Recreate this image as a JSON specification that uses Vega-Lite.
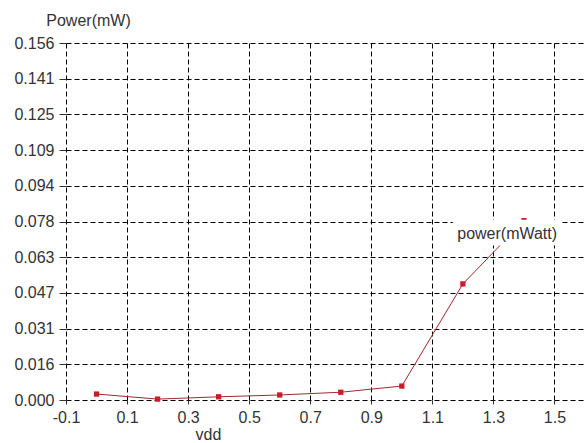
{
  "$schema": "https://vega.github.io/schema/vega-lite/v6.json",
  "autosize": "none",
  "width": 519,
  "height": 357,
  "padding": {"left": 66, "top": 43, "right": 0, "bottom": 43},
  "background": "white",
  "config": {"view": {"stroke": null}, "font": "Liberation Sans"},
  "datasets": {
    "series": [
      {"vdd": 0.0, "power": 0.0026},
      {"vdd": 0.2, "power": 0.0004},
      {"vdd": 0.4, "power": 0.0014},
      {"vdd": 0.6, "power": 0.0022},
      {"vdd": 0.8, "power": 0.0034},
      {"vdd": 1.0, "power": 0.0061},
      {"vdd": 1.2, "power": 0.0508},
      {"vdd": 1.4, "power": 0.0785}
    ],
    "legendbox": [
      {"vdd": 1.167, "vdd2": 1.524, "power": 0.0676, "power2": 0.0789, "label": "power(mWatt)", "vddc": 1.345, "powerc": 0.0728}
    ]
  },
  "encoding": {
    "x": {
      "field": "vdd", "type": "quantitative",
      "scale": {"domain": [-0.1, 1.6], "nice": false, "zero": false},
      "axis": {
        "values": [-0.1, 0.1, 0.3, 0.5, 0.7, 0.9, 1.1, 1.3, 1.5],
        "labelExpr": "datum.value < 0 ? '-0.1' : format(datum.value, '.1f')",
        "grid": true, "gridColor": "#000", "gridDash": [5, 3], "gridOpacity": 1, "gridWidth": 1,
        "domain": false, "ticks": true, "tickSize": 4, "tickColor": "#333",
        "labelFont": "Liberation Sans", "labelFontSize": 16, "labelColor": "#333",
        "labelPadding": 5, "labelDx": 5, "labelFlush": false, "labelOverlap": false,
        "title": "vdd", "titleFont": "Liberation Sans", "titleFontSize": 16, "titleFontWeight": "normal",
        "titleColor": "#333", "titleX": 142, "titleY": 26, "titleBaseline": "top", "titleAlign": "center"
      }
    },
    "y": {
      "field": "power", "type": "quantitative",
      "scale": {"domain": [0, 0.15625], "nice": false, "zero": false},
      "axis": {
        "values": [0, 0.015625, 0.03125, 0.046875, 0.0625, 0.078125, 0.09375, 0.109375, 0.125, 0.140625, 0.15625],
        "format": ".3f",
        "grid": true, "gridColor": "#000", "gridDash": [5, 3], "gridOpacity": 1, "gridWidth": 1,
        "domain": false, "ticks": true, "tickSize": 7, "tickColor": "#333",
        "labelFont": "Liberation Sans", "labelFontSize": 16, "labelColor": "#333",
        "labelPadding": 5, "labelFlush": false, "labelOverlap": false,
        "title": "Power(mW)", "titleFont": "Liberation Sans", "titleFontSize": 16, "titleFontWeight": "normal",
        "titleColor": "#333", "titleAngle": 0, "titleX": 22, "titleY": -18, "titleBaseline": "alphabetic", "titleAlign": "center"
      }
    }
  },
  "layer": [
    {
      "data": {"name": "series"},
      "mark": {"type": "line", "color": "#9e2a2b", "strokeWidth": 1}
    },
    {
      "data": {"name": "series"},
      "mark": {"type": "point", "shape": "square", "filled": true, "color": "#c41e2a", "size": 28, "opacity": 1}
    },
    {
      "data": {"name": "legendbox"},
      "mark": {"type": "rect", "fill": "white", "stroke": null},
      "encoding": {
        "x2": {"field": "vdd2"},
        "y2": {"field": "power2"}
      }
    },
    {
      "data": {"name": "legendbox"},
      "mark": {"type": "text", "font": "Liberation Sans", "fontSize": 16, "color": "#333", "align": "center", "baseline": "middle"},
      "encoding": {
        "x": {"field": "vddc", "type": "quantitative"},
        "y": {"field": "powerc", "type": "quantitative"},
        "text": {"field": "label"}
      }
    }
  ]
}
